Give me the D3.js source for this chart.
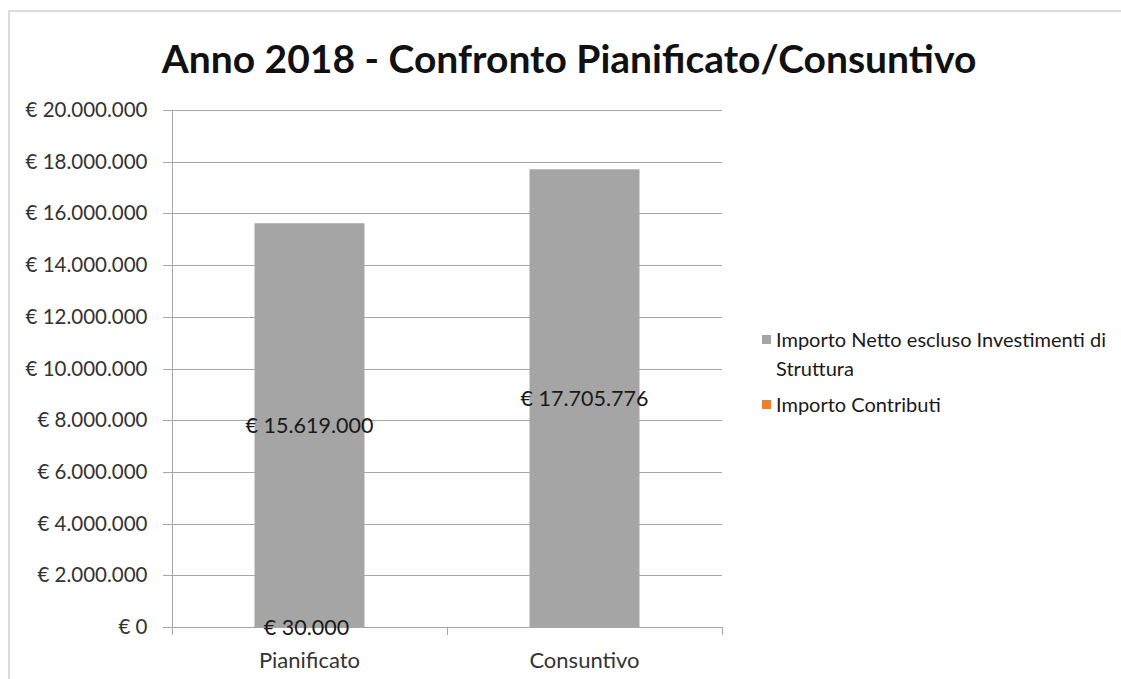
<!DOCTYPE html>
<html>
<head>
<meta charset="utf-8">
<script src="https://cdn.jsdelivr.net/npm/d3@7"></script>
<style>
  body { margin: 0; background: #fff; }
  svg { font-family: Lato, "Open Sans", sans-serif; }
</style>
</head>
<body>
<div id="chart"></div>
<script>
// data
const categories = ["Pianificato", "Consuntivo"];
const seriesNames = ["Importo Netto escluso Investimenti di Struttura", "Importo Contributi"];
const importoNetto = [15619000, 17705776];
const importoContributi = [30000, 0];
const yTicks = [0, 2000000, 4000000, 6000000, 8000000, 10000000, 12000000, 14000000, 16000000, 18000000, 20000000];
const colors = ["#a5a5a5", "#ed7d31"];

const width = 1121, height = 679;
const margin = { top: 110, left: 172, right: 399, bottom: 52 };

const svg = d3.select("#chart").append("svg")
    .attr("width", width)
    .attr("height", height);

// chart frame
svg.append("path")
    .attr("d", `M9,${height}V11H${width}`)
    .attr("fill", "none")
    .attr("stroke", "#d0d0d0")
    .attr("stroke-width", 1.5);

svg.append("text")
    .attr("x", 569)
    .attr("y", 73)
    .attr("text-anchor", "middle")
    .attr("font-size", 39)
    .attr("font-weight", "bold")
    .attr("fill", "#111")
    .text("Anno 2018 - Confronto Pianificato/Consuntivo");

const x = d3.scaleBand()
    .domain(categories)
    .range([margin.left, width - margin.right])
    .paddingInner(0.6)
    .paddingOuter(0.3);

const y = d3.scaleLinear()
    .domain([0, 20000000])
    .range([height - margin.bottom, margin.top]);

const euro = v => "€ " + d3.format(",")(v).replace(/,/g, ".");

// gridlines
svg.append("g")
    .selectAll("line")
    .data(yTicks)
    .join("line")
    .attr("x1", margin.left - 9)
    .attr("x2", width - margin.right)
    .attr("y1", d => Math.round(y(d)) + 0.5)
    .attr("y2", d => Math.round(y(d)) + 0.5)
    .attr("stroke", "#a6a6a6")
    .attr("stroke-width", 1);

// y axis
const yAxis = svg.append("g")
    .attr("transform", `translate(${margin.left + 0.5},0)`)
    .call(d3.axisLeft(y).tickValues(yTicks).tickFormat(d => d === 0 ? "€ 0" : euro(d)).tickSize(0).tickPadding(25));
yAxis.select(".domain").remove();
yAxis.selectAll("text")
    .attr("font-size", 20.5)
    .attr("fill", "#333")
    .attr("font-family", "Lato, sans-serif");
svg.append("line")
    .attr("x1", margin.left + 0.5).attr("x2", margin.left + 0.5)
    .attr("y1", y(20000000)).attr("y2", y(0) + 7)
    .attr("stroke", "#a6a6a6");

// x axis ticks at category boundaries
const xEdges = [margin.left, (margin.left + width - margin.right) / 2, width - margin.right];
svg.append("g")
    .selectAll("line")
    .data(xEdges)
    .join("line")
    .attr("x1", d => Math.round(d) + 0.5)
    .attr("x2", d => Math.round(d) + 0.5)
    .attr("y1", y(0))
    .attr("y2", y(0) + 8)
    .attr("stroke", "#a6a6a6");

svg.append("g")
    .selectAll("text")
    .data(categories)
    .join("text")
    .attr("x", d => x(d) + x.bandwidth() / 2)
    .attr("y", height - 11)
    .attr("text-anchor", "middle")
    .attr("font-size", 22)
    .attr("fill", "#333")
    .text(d => d);

// overlapping bars from zero; the tiny contributi bar sits under the grey one
const series = [importoNetto, importoContributi];
const bars = svg.append("g")
    .selectAll("g")
    .data(series.map((s, i) => ({ s, i })).reverse())
    .join("g")
    .attr("fill", d => colors[d.i]);

bars.selectAll("rect")
    .data(d => d.s.map((v, i) => ({ cat: categories[i], v })))
    .join("rect")
    .attr("x", d => x(d.cat))
    .attr("width", x.bandwidth())
    .attr("y", d => y(d.v))
    .attr("height", d => y(0) - y(d.v));

// value labels
const labelData = [];
series.forEach((s, si) => s.forEach((v, i) => {
    if (v > 0) labelData.push({ cat: categories[i], v, si });
}));
svg.append("g")
    .selectAll("text")
    .data(labelData)
    .join("text")
    .attr("x", d => x(d.cat) + x.bandwidth() / 2 + (d.si === 1 ? -3 : 0))
    .attr("y", d => y(d.v / 2) + 8)
    .attr("text-anchor", "middle")
    .attr("font-size", 21.5)
    .attr("fill", "#1a1a1a")
    .text(d => euro(d.v));

// legend
const legend = svg.append("g").attr("transform", "translate(762,0)");
const legendRows = [
    { lines: ["Importo Netto escluso Investimenti di", "Struttura"], y: 340, color: colors[0] },
    { lines: ["Importo Contributi"], y: 405, color: colors[1] }
];
const items = legend.selectAll("g").data(legendRows).join("g");
items.append("rect")
    .attr("x", 0)
    .attr("y", d => d.y - 5)
    .attr("width", 9)
    .attr("height", 9)
    .attr("fill", d => d.color);
items.append("text")
    .attr("x", 14)
    .attr("y", d => d.y + 7)
    .attr("font-size", 20)
    .attr("fill", "#1a1a1a")
    .selectAll("tspan")
    .data(d => d.lines)
    .join("tspan")
    .attr("x", 14)
    .attr("dy", (d, i) => i === 0 ? 0 : 29)
    .text(d => d);
</script>
</body>
</html>
